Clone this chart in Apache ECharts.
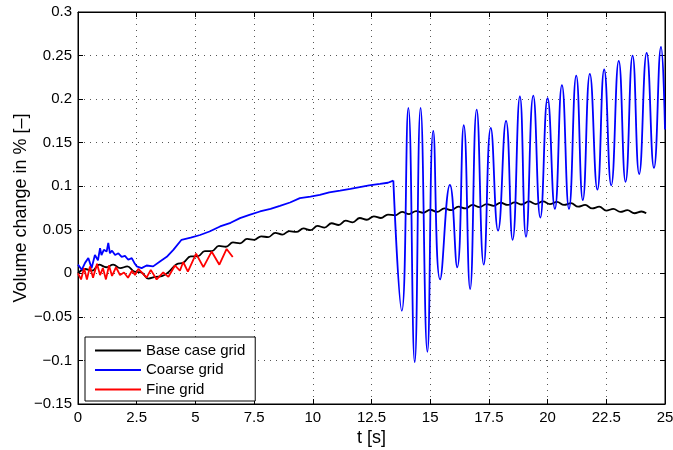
<!DOCTYPE html>
<html>
<head>
    <meta charset="utf-8">
    <title>Volume change</title>
    <script src="https://cdn.jsdelivr.net/npm/echarts@6/dist/echarts.min.js"></script>
    <style>
        html, body { margin: 0; padding: 0; background: #fff; }
        #container { width: 673px; height: 450px; }
    </style>
</head>
<body>
<div id="container"></div>
<script>
    // tick values
    var xTicks = [0, 2.5, 5, 7.5, 10, 12.5, 15, 17.5, 20, 22.5, 25];
    var yTicks = [-0.15, -0.1, -0.05, 0, 0.05, 0.1, 0.15, 0.2, 0.25, 0.3];

    // base case grid (black)
    var baseT = [0, 0.3, 0.6, 0.9, 1.2, 1.5, 1.8, 2.1, 2.4, 2.7, 3.0, 3.3, 3.6, 3.9, 4.2, 4.5, 4.8, 5.1, 5.4, 5.7,
        6.0, 6.3, 6.6, 6.9, 7.2, 7.5, 7.8, 8.1, 8.4, 8.7, 9.0, 9.3, 9.6, 9.9, 10.2, 10.5, 10.8, 11.1, 11.4, 11.7,
        12.0, 12.3, 12.6, 12.9, 13.2, 13.5, 13.8, 14.1, 14.4, 14.7, 15.0, 15.3, 15.6, 15.9, 16.2, 16.5, 16.8, 17.1, 17.4, 17.7,
        18.0, 18.3, 18.6, 18.9, 19.2, 19.5, 19.8, 20.1, 20.4, 20.7, 21.0, 21.3, 21.6, 21.9, 22.2, 22.5, 22.8, 23.1, 23.4, 23.7,
        24.0, 24.2];
    var baseV = [0.000, 0.005, 0.003, 0.010, 0.007, 0.010, 0.006, 0.008, 0.002, 0.001, -0.006, -0.004, -0.003, 0.0025, 0.0105, 0.0125, 0.0195, 0.0195, 0.0255, 0.0255,
        0.0315, 0.0305, 0.0355, 0.0345, 0.0395, 0.0385, 0.0425, 0.0415, 0.0465, 0.0445, 0.0485, 0.0475, 0.0515, 0.0495, 0.0545, 0.0525, 0.0575, 0.0555, 0.0605, 0.0585,
        0.0635, 0.0615, 0.0655, 0.0635, 0.0675, 0.0665, 0.0705, 0.068, 0.0715, 0.0695, 0.073, 0.0705, 0.0745, 0.0725, 0.0765, 0.0745, 0.0785, 0.076, 0.0795, 0.0775,
        0.081, 0.0785, 0.0815, 0.079, 0.0825, 0.0795, 0.0825, 0.0795, 0.082, 0.0785, 0.0805, 0.0765, 0.0785, 0.0745, 0.0765, 0.072, 0.074, 0.0705, 0.0725, 0.069,
        0.071, 0.069];

    // coarse grid (blue), before and after the jump
    var coarseT = [0, 0.16, 0.3, 0.44, 0.58, 0.72, 0.85, 0.94, 1.0, 1.1, 1.22, 1.29, 1.36, 1.45, 1.58, 1.72, 1.86, 2.0, 2.14, 2.29,
        2.4, 2.5, 2.71, 2.92, 3.2, 3.49, 3.78, 4.06, 4.41, 4.8, 5.2, 5.6, 6.05, 6.5, 6.9, 7.3, 7.75, 8.2, 8.6, 9.03,
        9.45, 9.9, 10.3, 10.7, 11.16, 11.6, 12.0, 12.4, 12.86, 13.2, 13.43];
    var coarseV = [0.01, 0.004, 0.012, 0.0175, 0.006, 0.021, 0.015, 0.029, 0.021, 0.027, 0.025, 0.035, 0.023, 0.026, 0.021, 0.023, 0.019, 0.02, 0.0156, 0.0175,
        0.012, 0.008, 0.006, 0.009, 0.008, 0.0137, 0.019, 0.027, 0.0385, 0.041, 0.044, 0.048, 0.0538, 0.058, 0.0634, 0.067, 0.071, 0.074, 0.0775, 0.0813,
        0.0863, 0.088, 0.090, 0.093, 0.095, 0.097, 0.099, 0.101, 0.1027, 0.104, 0.1065];
    var oscT = [13.43, 13.79, 14.07, 14.34, 14.59, 14.88, 15.13, 15.42, 15.84, 16.15, 16.43, 16.7, 16.98, 17.28, 17.58, 17.89, 18.23, 18.51, 18.82, 19.08,
        19.39, 19.69, 20.0, 20.31, 20.61, 20.91, 21.22, 21.5, 21.8, 22.12, 22.41, 22.71, 23.03, 23.32, 23.62, 23.9, 24.22, 24.53, 24.83, 25.0];
    var oscV = [0.1065, -0.043, 0.19, -0.102, 0.19, -0.09, 0.1635, -0.007, 0.1016, 0.007, 0.17, -0.018, 0.188, 0.010, 0.167, 0.049, 0.175, 0.0385, 0.203, 0.042,
        0.204, 0.064, 0.201, 0.074, 0.216, 0.074, 0.227, 0.084, 0.229, 0.096, 0.234, 0.101, 0.244, 0.105, 0.25, 0.114, 0.253, 0.121, 0.26, 0.165];

    // fine grid (red)
    var fineT = [0, 0.13, 0.26, 0.38, 0.51, 0.64, 0.81, 0.94, 1.06, 1.19, 1.32, 1.45, 1.62, 1.79, 1.96, 2.13, 2.3, 2.43, 2.57, 2.71,
        2.92, 3.1, 3.35, 3.63, 3.85, 4.13, 4.34, 4.48, 4.68, 5.03, 5.34, 5.69, 6.02, 6.33, 6.59];
    var fineV = [0.0, -0.007, 0.006, -0.007, 0.008, -0.005, 0.011, -0.002, 0.006, -0.007, 0.009, -0.003, 0.007, -0.002, 0.001, -0.005, 0.003, -0.002, 0.005, 0.001,
        -0.005, 0.004, -0.007, 0.001, -0.004, 0.009, 0.003, 0.013, 0.002, 0.0225, 0.0072, 0.025, 0.0099, 0.028, 0.0187];

    function pairs(t, v) {
        var out = [];
        for (var i = 0; i < t.length; i++) out.push([t[i], v[i]]);
        return out;
    }

    var font = "'Liberation Sans', Arial, sans-serif";
    var minus = function (s) { return String(s).replace('-', '\u2212'); };

    var dom = document.getElementById('container');
    var myChart = echarts.init(dom, null, { renderer: 'canvas' });

    var option = {
        animation: false,
        textStyle: { fontFamily: font, color: '#000' },
        grid: {
            left: 78, right: 8, top: 12, bottom: 46,
            outerBoundsMode: 'none', containLabel: false,
            show: true, borderColor: '#000', borderWidth: 1
        },
        legend: {
            data: ['Base case grid', 'Coarse grid', 'Fine grid'],
            orient: 'vertical',
            left: 85, top: 337,
            padding: [6, 10, 4, 10],
            icon: 'rect',
            itemWidth: 46, itemHeight: 1.8, itemGap: 4.5,
            borderColor: '#000', borderWidth: 1, borderRadius: 0,
            backgroundColor: '#fff',
            textStyle: { fontFamily: font, fontSize: 15, color: '#000' }
        },
        xAxis: [{
            type: 'value', min: xTicks[0], max: xTicks[xTicks.length - 1], interval: 2.5,
            name: 't [s]', nameLocation: 'middle', nameGap: 25, nameMoveOverlap: false,
            nameTextStyle: { fontFamily: font, fontSize: 18, color: '#000' },
            axisLine: { show: true, onZero: false, lineStyle: { color: '#000' } },
            axisTick: { inside: true, length: 5, lineStyle: { color: '#000' } },
            axisLabel: { fontFamily: font, fontSize: 15, color: '#000', margin: 6, formatter: minus },
            splitLine: { show: true, lineStyle: { color: '#555', type: [1, 5], width: 1 } }
        }, {
            type: 'value', position: 'top', min: xTicks[0], max: xTicks[xTicks.length - 1], interval: 2.5,
            axisLine: { show: true, onZero: false, lineStyle: { color: '#000' } },
            axisTick: { inside: true, length: 5, lineStyle: { color: '#000' } },
            axisLabel: { show: false }, splitLine: { show: false }
        }],
        yAxis: [{
            type: 'value', min: yTicks[0], max: yTicks[yTicks.length - 1], interval: 0.05,
            name: 'Volume change in % [\u2013]', nameLocation: 'middle', nameGap: 48, nameMoveOverlap: false,
            nameTextStyle: { fontFamily: font, fontSize: 18, color: '#000' },
            axisLine: { show: true, onZero: false, lineStyle: { color: '#000' } },
            axisTick: { inside: true, length: 5, lineStyle: { color: '#000' } },
            axisLabel: {
                fontFamily: font, fontSize: 15, color: '#000', margin: 6,
                formatter: function (v) { return minus(Math.round(v * 100) / 100); }
            },
            splitLine: { show: true, lineStyle: { color: '#555', type: [1, 5], width: 1 } }
        }, {
            type: 'value', position: 'right', min: yTicks[0], max: yTicks[yTicks.length - 1], interval: 0.05,
            axisLine: { show: true, onZero: false, lineStyle: { color: '#000' } },
            axisTick: { inside: true, length: 5, lineStyle: { color: '#000' } },
            axisLabel: { show: false }, splitLine: { show: false }
        }],
        series: [
            {
                name: 'Base case grid', type: 'line', data: pairs(baseT, baseV),
                symbol: 'none', smooth: 0.4, color: '#000000',
                lineStyle: { width: 1.8, color: '#000000' }
            },
            {
                name: 'Coarse grid', type: 'line', data: pairs(coarseT, coarseV),
                symbol: 'none', color: '#0000ff',
                lineStyle: { width: 1.8, color: '#0000ff' }
            },
            {
                name: 'Coarse grid', type: 'line', data: pairs(oscT, oscV),
                symbol: 'none', smooth: 0.5, color: '#0000ff',
                lineStyle: { width: 1.8, color: '#0000ff' }
            },
            {
                name: 'Fine grid', type: 'line', data: pairs(fineT, fineV),
                symbol: 'none', color: '#ff0000',
                lineStyle: { width: 1.8, color: '#ff0000' }
            }
        ]
    };

    if (option && typeof option === 'object') {
        myChart.setOption(option);
    }

    window.addEventListener('resize', myChart.resize);
</script>
</body>
</html>
